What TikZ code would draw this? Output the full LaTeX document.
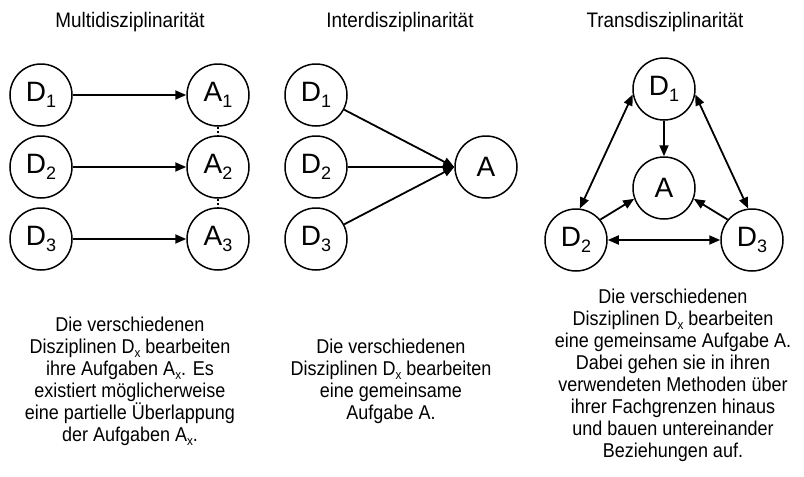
\documentclass[tikz,border=0pt]{standalone}
\usepackage{fontspec}
\setmainfont{Liberation Sans}
\newfontfamily\narrowsans[FakeStretch=0.9]{Liberation Sans}
\usetikzlibrary{arrows.meta}
% subscript inside a circle label and inside running text
\newcommand\csub[1]{\raisebox{-6pt}{\fontsize{18}{18}\selectfont #1}}
\newcommand\tsub[1]{\raisebox{-4pt}{\fontsize{13}{13}\selectfont #1}}
\begin{document}
\begin{tikzpicture}[x=1pt,y=-1pt,
  circ/.style={circle,draw,line width=1.5pt,minimum size=62pt,inner sep=0pt,
    font=\fontsize{28}{28}\selectfont},
  tip/.tip={Triangle[length=11pt,width=9pt]},
  conn/.style={line width=1.8pt,-tip},
  both/.style={line width=1.8pt,tip-tip},
  overlap/.style={line width=1.8pt,dash pattern=on 2pt off 2pt},
  title/.style={font=\narrowsans\fontsize{21}{22}\selectfont},
  desc/.style={align=center,font=\narrowsans\fontsize{20}{22}\selectfont}]
\useasboundingbox (0,0) rectangle (804,477);

% titles
\node[title] (t1) at (130,22) {Multidisziplinarität};
\node[title] (t2) at (400,22) {Interdisziplinarität};
\node[title] (t3) at (665,22) {Transdisziplinarität};

% multidisciplinarity: each discipline has its own task
\node[circ] (md1) at (41,95)  {D\csub{1}};
\node[circ] (md2) at (41,167) {D\csub{2}};
\node[circ] (md3) at (41,239) {D\csub{3}};
\node[circ] (ma1) at (218,95)  {A\csub{1}};
\node[circ] (ma2) at (218,167) {A\csub{2}};
\node[circ] (ma3) at (218,239) {A\csub{3}};
\draw[conn] (md1) -- (ma1);
\draw[conn] (md2) -- (ma2);
\draw[conn] (md3) -- (ma3);
\draw[overlap] (ma1) -- (ma2);
\draw[overlap] (ma2) -- (ma3);

% interdisciplinarity: all disciplines work on one task
\node[circ] (id1) at (316,95)  {D\csub{1}};
\node[circ] (id2) at (316,167) {D\csub{2}};
\node[circ] (id3) at (316,239) {D\csub{3}};
\node[circ] (ia) at (486,167) {A};
\draw[conn] (id1) -- (ia.west);
\draw[conn] (id2) -- (ia.west);
\draw[conn] (id3) -- (ia.west);

% transdisciplinarity: shared task and mutual relations
\node[circ] (td1) at (664,89)  {D\csub{1}};
\node[circ] (ta)  at (664,188) {A};
\node[circ] (td2) at (576,240) {D\csub{2}};
\node[circ] (td3) at (752,240) {D\csub{3}};
\draw[conn] (td1) -- (ta);
\draw[conn] (td2.40) -- (ta.200);
\draw[conn] (td3.140) -- (ta.340);
\draw[both] (td1.190) -- (td2.83);
\draw[both] (td1.350) -- (td3.97);
\draw[both] (td2) -- (td3);

% descriptions
\node[desc] (x1) at (130,381) {Die verschiedenen\\Disziplinen D\tsub{x} bearbeiten\\ihre Aufgaben A\tsub{x}. Es\\existiert möglicherweise\\eine partielle Überlappung\\der Aufgaben A\tsub{x}.};
\node[desc] (x2) at (391,381) {Die verschiedenen\\Disziplinen D\tsub{x} bearbeiten\\eine gemeinsame\\Aufgabe A.};
\node[desc] (x3) at (673,375) {Die verschiedenen\\Disziplinen D\tsub{x} bearbeiten\\eine gemeinsame Aufgabe A.\\Dabei gehen sie in ihren\\verwendeten Methoden über\\ihrer Fachgrenzen hinaus\\und bauen untereinander\\Beziehungen auf.};
\end{tikzpicture}
\end{document}
